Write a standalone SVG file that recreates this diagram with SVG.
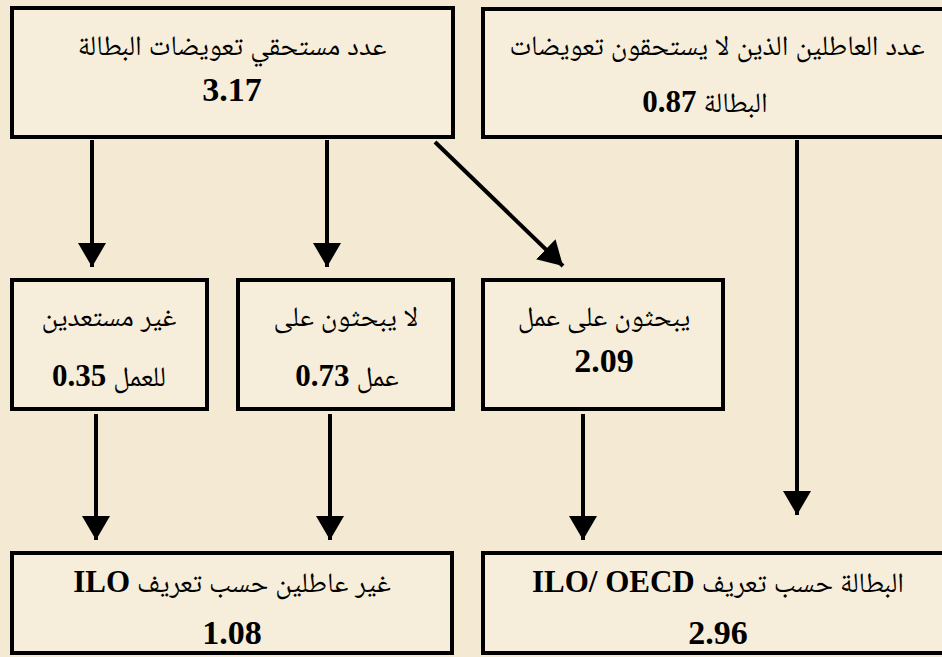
<svg xmlns="http://www.w3.org/2000/svg" width="942" height="657" viewBox="0 0 942 657">
<style>
.box{fill:#F6EDDA;stroke:#000;stroke-width:4}
.ar{font-family:"Liberation Serif","Noto Naskh Arabic","DejaVu Sans",serif;font-size:28px;fill:#000;direction:rtl;text-anchor:middle}
.num{font-family:"Liberation Serif",serif;font-weight:bold;font-size:34px;fill:#000;text-anchor:middle}
.b{font-weight:bold;font-size:31px}
.conn{stroke:#000;stroke-width:4;fill:none}
</style>
<defs>
<marker id="ah" markerUnits="userSpaceOnUse" markerWidth="28" markerHeight="28" viewBox="0 0 28 28" refX="24" refY="14" orient="auto">
<path d="M0,0 L24,14 L0,28 z" fill="#000"/>
</marker>
</defs>
<rect x="0" y="0" width="942" height="657" fill="#F4EAD3"/>
<g id="connectors">
<line class="conn" x1="92" y1="140" x2="92" y2="267" marker-end="url(#ah)"/>
<line class="conn" x1="327" y1="140" x2="327" y2="267" marker-end="url(#ah)"/>
<line class="conn" x1="435" y1="142" x2="563" y2="266" marker-end="url(#ah)"/>
<line class="conn" x1="797" y1="140" x2="797" y2="515" marker-end="url(#ah)"/>
<line class="conn" x1="96" y1="414" x2="96" y2="540" marker-end="url(#ah)"/>
<line class="conn" x1="330" y1="414" x2="330" y2="540" marker-end="url(#ah)"/>
<line class="conn" x1="583" y1="414" x2="583" y2="540" marker-end="url(#ah)"/>
</g>
<g id="n1">
<rect class="box" x="12" y="8" width="441" height="129"/>
<text class="ar" x="232" y="55">عدد مستحقي تعويضات البطالة</text>
<text class="num" x="232" y="101">3.17</text>
</g>
<g id="n2">
<rect class="box" x="483" y="9" width="470" height="128"/>
<text class="ar" x="717" y="55">عدد العاطلين الذين لا يستحقون تعويضات</text>
<text class="ar" x="705" y="112">البطالة <tspan class="b">0.87</tspan></text>
</g>
<g id="n3">
<rect class="box" x="12" y="280" width="195" height="129"/>
<text class="ar" x="109" y="326">غير مستعدين</text>
<text class="ar" x="109" y="386">للعمل <tspan class="b">0.35</tspan></text>
</g>
<g id="n4">
<rect class="box" x="238" y="280" width="215" height="129"/>
<text class="ar" x="346" y="326">لا يبحثون على</text>
<text class="ar" x="347" y="386">عمل <tspan class="b">0.73</tspan></text>
</g>
<g id="n5">
<rect class="box" x="483" y="280" width="240" height="129"/>
<text class="ar" x="604" y="326">يبحثون على عمل</text>
<text class="num" x="604" y="372">2.09</text>
</g>
<g id="n6">
<rect class="box" x="12" y="553" width="440" height="100"/>
<text class="ar" x="232" y="592">غير عاطلين حسب تعريف <tspan class="b">ILO</tspan></text>
<text class="num" x="232" y="644">1.08</text>
</g>
<g id="n7">
<rect class="box" x="483" y="553" width="470" height="100"/>
<text class="ar" x="718" y="592">البطالة حسب تعريف <tspan class="b">ILO/ OECD</tspan></text>
<text class="num" x="718" y="644">2.96</text>
</g>
</svg>
